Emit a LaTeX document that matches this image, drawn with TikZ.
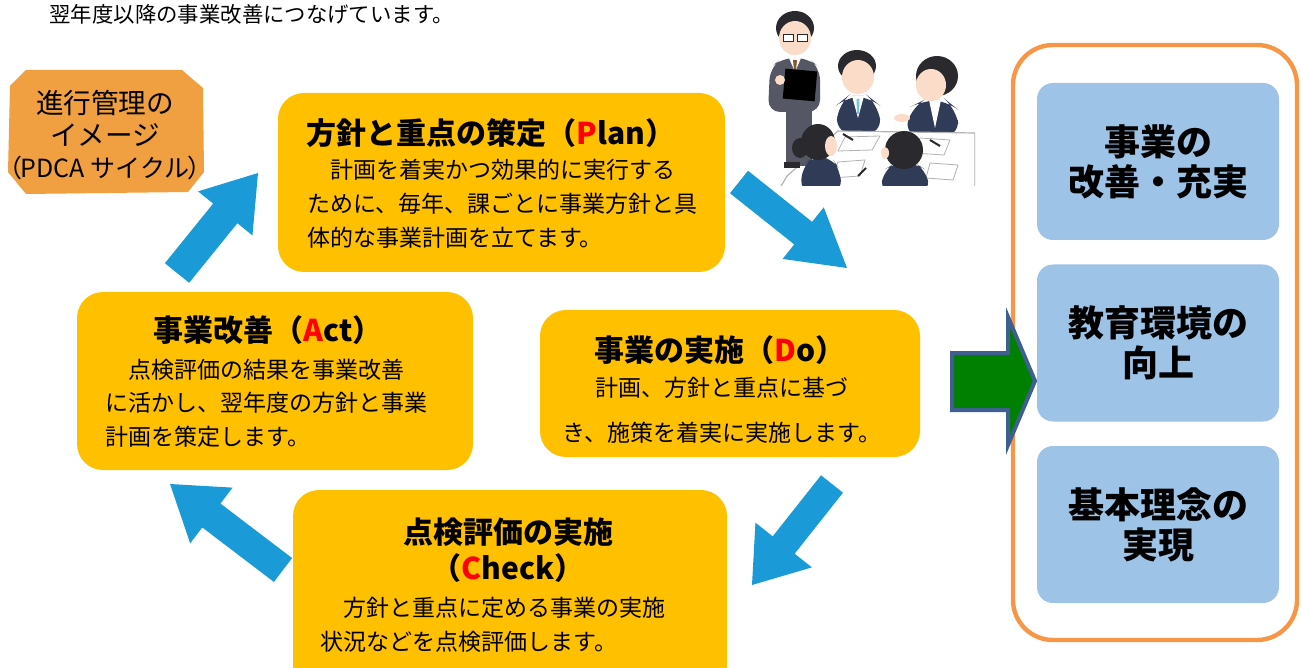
\documentclass[tikz,border=0pt]{standalone}
\usepackage{fontspec}
\setmainfont{Noto Sans CJK JP}
\usetikzlibrary{calc}

\definecolor{phaseyellow}{HTML}{FFC000}
\definecolor{badgeorange}{HTML}{F0A040}
\definecolor{frameorange}{HTML}{F79646}
\definecolor{goalblue}{HTML}{9DC3E6}
\definecolor{flowblue}{HTML}{1A9BD7}
\definecolor{gogreen}{HTML}{008000}
\definecolor{goline}{HTML}{3F5F91}
\definecolor{skin}{HTML}{FADCC8}
\definecolor{hair}{HTML}{2A2A2E}
\definecolor{suit}{HTML}{2F3B57}
\definecolor{greysuit}{HTML}{555864}

\newcommand{\bodyfont}{\fontsize{11.5}{17}\selectfont}
\newcommand{\titlefont}{\fontsize{15}{18}\selectfont\bfseries}
\newcommand{\goalfont}{\fontsize{18}{20}\selectfont\bfseries}
\newcommand{\pdca}[1]{\textcolor{red}{#1}}

% fat arrow: tail, tip, shaft half width, head half width, head length
\newcommand{\fatarrow}[5]{%
  \coordinate (fa-b) at ($(#2)!#5!(#1)$);
  \fill[flowblue] ($(#1)!#3!90:(#2)$) -- ($(fa-b)!#3!-90:(#1)$)
    -- ($(fa-b)!#4!-90:(#1)$) -- (#2) -- ($(fa-b)!#4!90:(#1)$)
    -- ($(fa-b)!#3!90:(#1)$) -- ($(#1)!#3!-90:(#2)$) -- cycle;
}

\begin{document}
\begin{tikzpicture}[x=0.5pt,y=-0.5pt,
    phase/.style={fill=phaseyellow, rounded corners=13pt, inner sep=0pt},
    goal/.style={fill=goalblue, rounded corners=8pt, minimum width=121pt,
      minimum height=78.5pt, inner sep=0pt, align=center, font=\goalfont},
    txt/.style={inner sep=0pt, font=\bodyfont},
    ttl/.style={inner sep=0pt, font=\titlefont, align=center}]
    \useasboundingbox (0,0) rectangle (1301,668);

    \node[txt, font=\fontsize{10.7}{12}\selectfont, anchor=west] (lead) at (49,14)
        {翌年度以降の事業改善につなげています。};

    % badge
    \fill[badgeorange] (10,86) -- (26,70) -- (182,70) -- (203,88) -- (204,172)
        -- (188,192) -- (26,194) -- (8,172) -- cycle;
    \node[txt, font=\fontsize{13.8}{16}\selectfont, align=center] (badge) at (105,135)
        {進行管理の\\イメージ\\{\fontsize{12.5}{16}\selectfont （\kern-0.08em PDCA サイクル\kern-0.08em）}};

    % illustration
    \begin{scope}
    \clip (755,0) rectangle (975,186);
    % seated behind the table
    \fill[suit, rounded corners=8pt] (836,134) -- (838,104) -- (848,96) -- (868,96)
        -- (878,104) -- (882,134) -- cycle;
    \fill[white] (852,96) -- (864,96) -- (858,118) -- cycle;
    \fill[flowblue!60] (856.5,99) -- (859.5,99) -- (859,114) -- (857,114) -- cycle;
    \fill[hair] (857,66) ellipse[x radius=19, y radius=16];
    \fill[skin] (858,77) ellipse[x radius=16, y radius=17];
    \fill[suit, rounded corners=8pt] (904,136) -- (912,106) -- (924,100) -- (946,100)
        -- (956,108) -- (960,136) -- cycle;
    \fill[white] (929,100) -- (941,100) -- (935,128) -- cycle;
    \fill[hair] (937,76) ellipse[x radius=21, y radius=20];
    \fill[skin] (931,85) ellipse[x radius=15, y radius=16];
    \fill[skin] (902,118) ellipse[x radius=8, y radius=4];
    % table and papers
    \filldraw[fill=white, draw=gray!60, line width=0.6pt] (787,176) -- (838,131)
        -- (975,133) -- (975,188) -- (780,188) -- cycle;
    \draw[gray!60, fill=white] (845,137) -- (880,136) -- (872,150) -- (838,151) -- cycle;
    \draw[gray!60, fill=white] (920,138) -- (950,140) -- (944,155) -- (914,153) -- cycle;
    \draw[gray!60, fill=white] (838,162) -- (865,160) -- (860,176) -- (832,178) -- cycle;
    \draw[gray!60, fill=white] (930,163) -- (958,165) -- (953,180) -- (926,178) -- cycle;
    \draw[hair, line width=1pt] (843,134) -- (853,140);
    \draw[hair, line width=1pt] (930,140) -- (940,146);
    \draw[hair, line width=1pt] (858,176) -- (866,168);
    % standing
    \fill[greysuit] (786,105) rectangle (812,166);
    \fill[hair] (784,162) rectangle (800,168);
    \fill[greysuit, rounded corners=6pt] (768,112) -- (770,68) -- (782,58) -- (808,58)
        -- (820,68) -- (820,112) -- cycle;
    \fill[white] (789,58) -- (801,58) -- (795,72) -- cycle;
    \fill[brown!70!black] (793,60) -- (797,60) -- (796,70) -- (794,70) -- cycle;
    \fill[hair] (795,28) ellipse[x radius=19, y radius=17];
    \fill[skin] (795,38) ellipse[x radius=16, y radius=17];
    \draw[hair, line width=0.5pt, fill=white] (783,35) rectangle (793,42);
    \draw[hair, line width=0.5pt, fill=white] (797,35) rectangle (807,42);
    \fill[black, rotate around={-5:(800,85)}] (784,70) rectangle (816,100);
    \fill[skin] (780,80) circle[radius=5];
    % seated in front
    \fill[suit, rounded corners=6pt] (800,192) -- (803,165) -- (815,156) -- (832,158)
        -- (840,170) -- (842,192) -- cycle;
    \fill[hair] (800,148) ellipse[x radius=8, y radius=10];
    \fill[hair] (818,142) ellipse[x radius=17, y radius=18];
    \fill[skin] (831,146) ellipse[x radius=6, y radius=10];
    \fill[suit, rounded corners=6pt] (880,192) -- (884,170) -- (895,163) -- (915,163)
        -- (926,170) -- (930,192) -- cycle;
    \fill[hair] (904,150) ellipse[x radius=19, y radius=19];
    \fill[skin] (885,153) ellipse[x radius=4, y radius=6];
    \end{scope}

    % PDCA phases
    \node[phase, minimum width=223.5pt, minimum height=89.5pt] (plan) at (501.5,182.5) {};
    \node[phase, minimum width=190pt, minimum height=73.5pt] (do) at (730,383.5) {};
    \node[phase, minimum width=198pt, minimum height=89pt] (act) at (275,381) {};
    \node[phase, minimum width=217pt, minimum height=105pt] (check) at (510,595) {};

    \node[ttl] (plan-t) at (491,133) {方針と重点の策定（\pdca{P}lan）};
    \node[txt, align=left, anchor=west] (plan-b) at (307,204)
        {　計画を着実かつ効果的に実行する\\ために、毎年、課ごとに事業方針と具\\体的な事業計画を立てます。};

    \node[ttl] (do-t) at (720,350) {事業の実施（\pdca{D}o）};
    \node[txt, align=center, font=\fontsize{11.5}{22.5}\selectfont] (do-b) at (722,410.5)
        {計画、方針と重点に基づ\\き、施策を着実に実施します。};

    \node[ttl] (act-t) at (268,330) {事業改善（\pdca{A}ct）};
    \node[txt, align=left, anchor=west, font=\fontsize{11.5}{16.75}\selectfont] (act-b) at (105,403)
        {　点検評価の結果を事業改善\\に活かし、翌年度の方針と事業\\計画を策定します。};

    \node[ttl] (check-t) at (508,550) {点検評価の実施\\（\pdca{C}heck）};
    \node[txt, align=left, anchor=west] (check-b) at (320,625)
        {　方針と重点に定める事業の実施\\状況などを点検評価します。};

    % cycle arrows
    \coordinate (ap-tail) at (177,273);  \coordinate (ap-tip) at (258,173);
    \coordinate (pd-tail) at (739,182);  \coordinate (pd-tip) at (847,268);
    \coordinate (dc-tail) at (832,484);  \coordinate (dc-tip) at (752,585);
    \coordinate (ca-tail) at (283,570);  \coordinate (ca-tip) at (170,484);
    \fatarrow{ap-tail}{ap-tip}{7.8pt}{17.5pt}{26pt}
    \fatarrow{pd-tail}{pd-tip}{7.2pt}{16.5pt}{28pt}
    \fatarrow{dc-tail}{dc-tip}{7pt}{18pt}{25.5pt}
    \fatarrow{ca-tail}{ca-tip}{7.5pt}{17.5pt}{26pt}

    % outcomes
    \node[draw=frameorange, line width=2.2pt, rounded corners=20pt, minimum width=142pt,
        minimum height=297.5pt] (goals) at (1155,342.5) {};
    \node[goal] (g1) at (1158,161.5) {事業の\\改善・充実};
    \node[goal] (g2) at (1158,343) {教育環境の\\向上};
    \node[goal] (g3) at (1158,524.5) {基本理念の\\実現};

    \draw[goline, fill=gogreen, line width=2pt, line join=miter] (952,353) -- (1008,353)
        -- (1008,317) -- (1035,381) -- (1008,445) -- (1008,410) -- (952,410) -- cycle;
\end{tikzpicture}
\end{document}
